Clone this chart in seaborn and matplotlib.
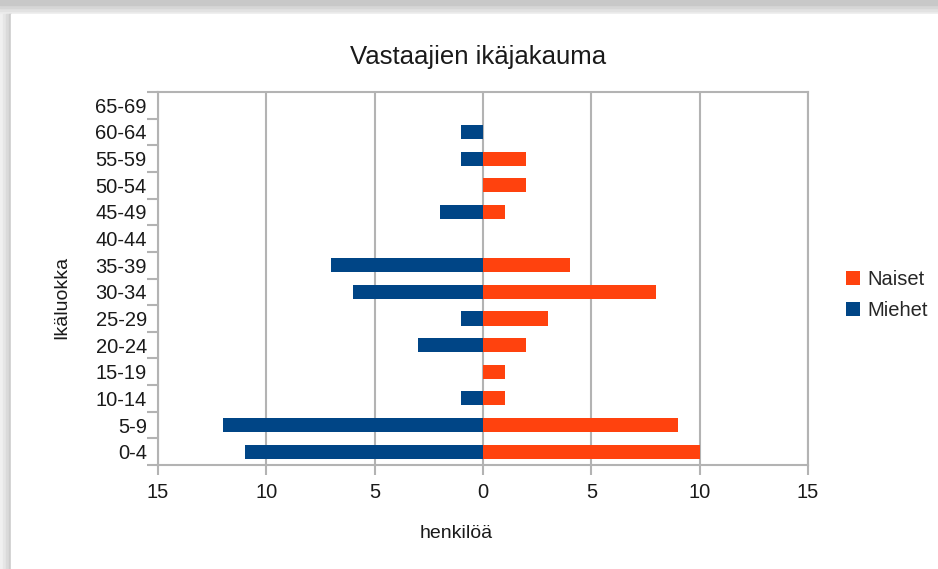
import numpy as np
import pandas as pd
import seaborn as sns
import matplotlib.pyplot as plt
from matplotlib.patches import Rectangle

# Age groups, bottom to top as in the chart
AGE_GROUPS = ["0-4", "5-9", "10-14", "15-19", "20-24", "25-29", "30-34",
              "35-39", "40-44", "45-49", "50-54", "55-59", "60-64", "65-69"]
NAISET = [10, 9, 1, 1, 2, 3, 8, 4, 0, 1, 2, 2, 0, 0]
MIEHET = [11, 12, 1, 0, 3, 1, 6, 7, 0, 2, 0, 1, 1, 0]
X_TICKS = [-15, -10, -5, 0, 5, 10, 15]

ORANGE = "#ff420e"
BLUE = "#004586"
GRID = "#b3b3b3"

df = pd.concat([
    pd.DataFrame({"ika": AGE_GROUPS, "henkiloa": NAISET, "sukupuoli": "Naiset"}),
    pd.DataFrame({"ika": AGE_GROUPS, "henkiloa": [-m for m in MIEHET], "sukupuoli": "Miehet"}),
])

sns.set_theme(style="white")
plt.rcParams["font.family"] = ["Liberation Sans", "DejaVu Sans"]

fig = plt.figure(figsize=(9.38, 5.69), dpi=100)
fig.patch.set_facecolor("white")

# screenshot drop shadow along top and left edges
for i, c in enumerate(["#ececec", "#e2e2e2", "#d6d6d6", "#c8c8c8"]):
    fig.patches.append(Rectangle((0, 1 - (14 - i * 3) / 569), 1, (14 - i * 3) / 569,
                                 transform=fig.transFigure, color=c, zorder=0))
for i, c in enumerate(["#f0f0f0", "#e6e6e6", "#dadada", "#cccccc"]):
    fig.patches.append(Rectangle((i * 3 / 938, 0), (11 - i * 3) / 938, 1 - 14 / 569,
                                 transform=fig.transFigure, color=c, zorder=0))
fig.patches.append(Rectangle((11 / 938, 0), 1, 1 - 14 / 569,
                             transform=fig.transFigure, color="white", zorder=0))

ax = fig.add_axes([158 / 938, (569 - 465) / 569, 650 / 938, 373 / 569])
ax.set_zorder(2)

sns.barplot(
    data=df, x="henkiloa", y="ika", hue="sukupuoli",
    order=AGE_GROUPS[::-1], hue_order=["Naiset", "Miehet"],
    palette=[ORANGE, BLUE], saturation=1, dodge=False, width=0.53,
    orient="h", ax=ax, zorder=3, linewidth=0,
)

ax.set_xlim(-15, 15)
ax.set_ylim(len(AGE_GROUPS) - 0.5, -0.5)
ax.set_xticks(X_TICKS)
ax.set_xticklabels([str(abs(t)) for t in X_TICKS])
ax.set_yticks(np.arange(len(AGE_GROUPS) + 1) - 0.5, minor=True)
ax.tick_params(axis="y", which="major", length=0, labelsize=14.5, pad=8, colors="#1a1a1a")
ax.tick_params(axis="y", which="minor", left=True, length=8, width=1.5, color=GRID)
ax.tick_params(axis="x", which="major", bottom=True, length=7, width=1.5, color=GRID,
               labelsize=14.5, pad=6, labelcolor="#1a1a1a")

ax.xaxis.grid(True, color=GRID, linewidth=1.5, zorder=0)
ax.set_axisbelow(True)
for spine in ax.spines.values():
    spine.set_color(GRID)
    spine.set_linewidth(1.5)

ax.set_xlabel("")
ax.set_ylabel("")
fig.text(456 / 938, 1 - 533 / 569, "henkilöä", ha="center", va="center", fontsize=14, color="#1a1a1a")
fig.text(62 / 938, 1 - 297 / 569, "Ikäluokka", ha="center", va="center", rotation=90,
         fontsize=14, color="#1a1a1a")
fig.text(478 / 938, 1 - 57 / 569, "Vastaajien ikäjakauma", ha="center", va="center",
         fontsize=18.5, color="#1a1a1a")

ax.legend(loc="center left", bbox_to_anchor=(1.03, 0.456), frameon=False,
          fontsize=14.5, handlelength=0.7, handleheight=0.7, handletextpad=0.4,
          labelspacing=0.6)

fig.savefig("out.png", dpi=100)
